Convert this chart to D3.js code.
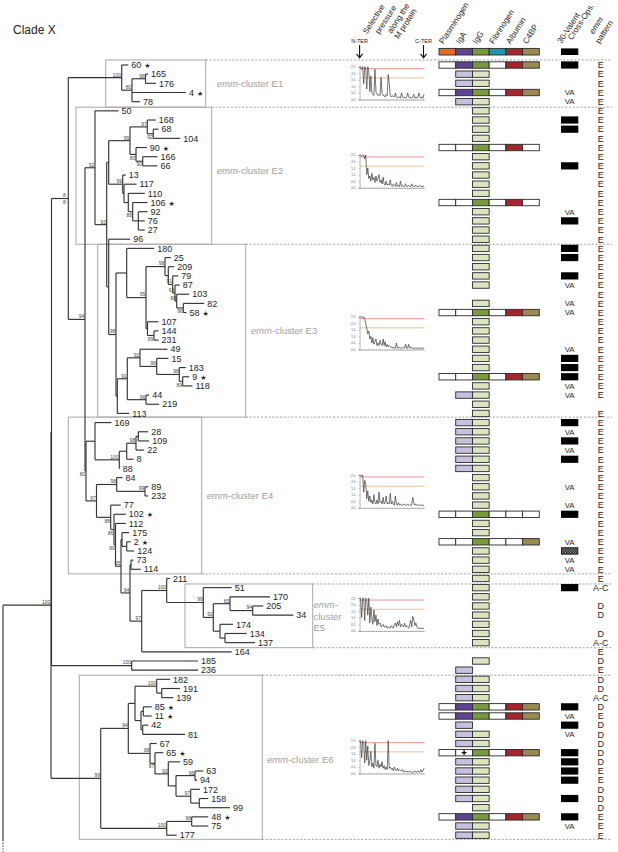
<!DOCTYPE html>
<html><head><meta charset="utf-8">
<script src="https://cdn.jsdelivr.net/npm/d3@7"></script>
<style>body{margin:0;background:#fff}svg{display:block}text{font-family:"Liberation Sans",Arial,sans-serif}</style>
</head><body>
<svg id="c" width="618" height="852"></svg>
<script>
// ---------------- DATA ----------------
// Phylogeny (Newick, branch lengths in arbitrary divergence units, internal labels = bootstrap; "_" = label drawn below branch)
const treeE1 = "(60:6.6,((165:2.5,176:10.5)98:13.5,4:54,78:8)80:10.3)100:53.4";
const treeE2 = "(((168:8.5,(68:5.2,104:26.9)92_:6)97:17.3,(90:10.8,(166:14.8,66:14.8)90_:6.7)80_:6)99:21.3,(13:3.1,(117:12.5,(110:16.5,(106:14.8,(92:9.2,76:6.5,27:6.5):5.6)88_:4.4):4.3):1.3)99:14):2";
const treeE3 = "((180:27.5,((25:5.8,(209:5.9,(79:5.5,(87:4.8,(103:12.5,(82:20.9,58:3.2)96_:6.6)88:1.7)63:2.3)91:4.4):3.3)98:19,(107:11,(144:4.5,231:4.5)89_:6.5):1.5)95:19.3):10.7,(((49:27.5,(15:11.8,(183:6.5,(9:6.5,118:9.8)89_:3.4)98:22.6)96:16.7)92:12.7,(44:3.2,219:13.2)96:18.7)91:10,113:11.9):1.3)98:7.3";
const treeE4a = "(169:16.5,((((28:9.9,109:10.9):2.3,22:8.2)98:9.3,8:6.8):7.4,88:0.5)100:24.3):9";
const treeE5 = "(51:28.4,((170:40,(205:10.6,34:40.6)94:22.7)83:16.7,(174:13,(134:21.7,137:30):5):6.7)92:10)99:36.6";
const treeE4b = "((84:5.8,(89:3.2,232:3.2)99:28.3)98:20.2,(77:10.1,(102:11.8,(112:10.3,((175:7.2,(2:4.1,124:7.5):4.7):1,((73:2.5,114:9.8):1,((211:3.3," + treeE5 + ")100:25,164:90)97:11.7)94:9)95:5.5)89_:1.5)86_:3.3)88_:14.2)97:10.5";
const treeE6 = "((((182:13.3,(191:18.3,139:11.6):5)100:21.7,((85:8.4,11:8.4):2.3,(42:5.6,81:42.3):1.7):6):6.7,(67:6.7,(65:8.3,(59:11.7,((63:8.3,94:2)96:19,(172:9.3,(158:9,99:30.7):8.6)97:14.7):7.7)93:13.3)87_:5)98:21.7)94:27.6,((48:16.6,75:16.6)98:25,177:10)100:66)99:49.7";
const treeUpper = "(" + treeE1 + ",((50:23.5,(" + treeE2 + ",(96:21.5," + treeE3 + "):2)93:11.7)92:10,(" + treeE4a + "," + treeE4b + ")80_:1)94:16.7)8|8:16.8";
const newick = "(((" + treeUpper + ",(185:66.3,236:66.3)100:80.2):0.5," + treeE6 + ")100:48);";

const starred = ["60","4","90","106","58","9","102","2","85","11","65","48"];

const proteins = ["Plasminogen","IgA","IgG","Fibrinogen","Albumin","C4BP"];
// per leaf row, one char per protein: . none, w tested/negative, P strong binding, p weak binding, x cross
const binding = [
"wPPwPP",".pp...",".pp...","wPPwPP",".pp...","..p...","..p...","..p...","..p...","wwPwPw",
"..p...","..p...","..p...","..p...","..p...","wwPwPw","..p...","..p...","..p...","..p...",
"..p...","..p...","..p...","..p...","..p...","......","..p...","wwPwPP","..p...","..p...",
"..p...","..p...","..p...","..p...","wwPwPP","..p...",".pp...","..p...","..p...",".pp...",
".pp...",".pp...",".pp...",".pp...",".pp...","..p...","..p...","..p...","..p...","wwPwww",
"..p...","..p...","wwPwwP","..p...","..p...","..p...","..p...","..p...","..p...","..p...",
"..p...","..p...","..p...","..p...","......","..p...",".p....",".pp...",".pp...",".pp...",
"wPPwPP","wPPwPP",".p....",".pp...",".pp...","wxPwPP",".pp...",".pp...",".pp...",".pp...",
".pp...","..p...","wPPwPP",".pp...",".pp..."];
// 30-valent cross-opsonization: B covered, V "VA", H hatched, . none
const opsonization = ("B..VV.BB.." + ".B....VB.." + "BB.BV.VV.." + ".VBBBVV..B" + "VBVB..V.VB" +
                      "..VHVV.B.." + ".........." + "BVBV.BBBB." + "B.BV.").split("");
// emm pattern: E, D, A (= A-C), . none
const emmPattern = ("EEEEEEEEEE" + "EEEEEEEEEE" + "EEEEEEEEEE" + "EEEEEEE.EE" + "EEEEEEEEEE" +
                    "EEEEEEEA.D" + "D.DAEDEDDA" + "DEDDDDDEED" + "DDEEE").split("");

// selective pressure along the M protein (N-ter -> C-ter), one series per emm-cluster
const pressureE1 = [2.5,2.5,2.3,2.5,1.2,2.5,2.4,0.8,2.5,2.2,0.6,1.8,0.5,0.4,0.3,2.3,0.6,0.4,0.3,0.4,0.3,1.7,0.5,0.3,0.3,0.2,0.4,0.3,1.9,1.2,0.3,0.2,0.3,0.2,0.2,0.5,0.2,0.1,0.2,0.2,0.1,0.5,0.2,0.1,0.2,0.1,0.2,0.5,0.2,0.1,0.2,0.1,0.2,0.4,0.1,0.2,0.1,0.2,0.5,0.2,0.1,0.2,0.1,0.4];
const pressureE2 = [2.5,2.5,2.4,2.5,2.5,2.2,2.5,1.0,1.5,0.7,0.9,0.5,1.1,0.6,0.8,0.4,0.9,0.5,0.7,1.0,0.4,0.6,0.3,0.8,0.3,0.2,0.5,0.2,0.3,0.2,0.6,0.2,0.1,0.3,0.2,0.1,0.4,0.1,0.2,0.1,0.5,0.1,0.2,0.1,0.1,0.3,0.1,0.1,0.2,0.1,0.1,0.3,0.1,0.1,0.1,0.2,0.1,0.1,0.1,0.2,0.1,0.1,0.1,0.1];
const pressureE3 = [2.5,2.5,2.5,2.4,2.5,2.3,2.0,1.6,1.2,1.4,0.8,1.0,0.5,0.9,0.4,0.6,0.8,0.3,0.5,0.3,0.7,0.4,0.3,0.8,0.3,0.6,0.2,0.4,0.2,0.3,0.2,0.2,0.1,0.2,0.1,0.1,0.5,0.1,0.1,0.2,0.1,0.1,0.1,0.2,0.1,0.4,0.1,0.1,0.4,0.1,0.2,0.1,0.1,0.1,0.1,0.1,0.1,0.1,0.1,0.1,0.1,0.1,0.1,0.1];
const pressureE4 = [2.5,2.5,2.4,2.5,1.2,2.1,1.8,0.7,1.3,0.5,0.9,0.4,0.6,0.3,1.0,0.4,0.3,0.6,0.3,1.2,0.4,0.5,0.3,0.8,0.3,0.4,0.9,0.3,0.4,0.3,1.1,0.3,0.5,0.3,0.2,0.9,0.3,0.2,0.4,0.2,0.3,0.2,0.2,0.3,0.2,0.2,0.2,0.3,0.2,0.2,0.2,0.2,0.8,0.4,0.2,0.3,0.2,0.2,0.2,0.2,0.2,0.2,0.2,0.2];
const pressureE5 = [2.5,2.5,1.0,2.5,2.5,0.8,2.5,2.4,1.2,2.5,0.6,1.8,1.0,0.5,1.6,0.7,1.2,0.4,0.9,0.5,0.6,0.3,0.4,0.5,0.3,0.3,0.4,0.2,0.3,0.3,0.2,0.4,0.3,0.2,0.5,0.6,0.3,0.7,0.4,0.8,0.3,0.5,0.4,0.3,0.6,0.3,0.4,0.3,0.2,0.5,0.8,0.3,1.1,0.9,0.4,0.6,0.3,0.2,0.2,0.2,0.2,0.2,0.2,0.2];
const pressureE6 = [2.5,2.5,1.2,2.5,2.3,0.8,2.5,1.0,2.1,0.6,1.0,1.7,0.5,0.8,0.4,2.3,0.6,0.5,1.0,0.4,0.7,0.5,0.9,0.4,0.6,0.3,0.5,0.3,2.5,0.4,0.5,0.3,0.4,0.2,0.5,0.3,0.2,0.4,0.2,0.3,0.2,0.2,0.3,0.1,0.2,0.1,0.2,0.1,0.1,0.2,0.1,0.1,0.1,0.1,0.2,0.1,0.1,0.2,0.1,0.1,0.3,0.1,0.2,0.4];
const pressureTicks = [0, 0.5, 1, 1.5, 2, 2.5];
const thresholds = [2.35, 1.65];

// ---------------- LAYOUT ----------------
const FONT = '"Liberation Sans", Arial, sans-serif';
const svg = d3.select("#c");
const rowY = d3.scaleLinear().domain([0, 84]).range([65, 835.2]);
const treeX = d3.scaleLinear().domain([0, 291]).range([3, 294]);
const colX = d3.scaleBand().domain(proteins).range([439, 539.3]);
const strong = {Plasminogen:"#e46c2a", IgA:"#5e4592", IgG:"#789a3e", Fibrinogen:"#1f97a8", Albumin:"#a3262c", C4BP:"#9a8a52"};
const weak = {IgA:"#c9bfdf", IgG:"#d9e5be"};

const clusterLayout = [
  {r:[-0.55,4.6], x:[105.7,205.7], lab:[[216.7,87,"E1"]]},
  {r:[4.6,19.55], x:[76,211.7], lab:[[216.7,174,"E2"]]},
  {r:[19.55,38.4], x:[97.7,245.7], lab:[[250.7,333.5,"E3"]]},
  {r:[38.4,55.5], x:[68.3,201.7], lab:[[206.7,498.5,"E4"]]},
  {r:[56.6,63.55], x:[185,312.7], lab:null},
  {r:[66.55,84.45], x:[79.3,262.3], lab:[[267,762.5,"E6"]]}
];
const separators = [[-0.55,205.7],[4.6,211.7],[19.55,245.7],[38.4,245.7],[55.5,201.7],[56.6,312.7],[63.55,312.7],[66.55,262.3],[84.45,262.3]];

// ---------------- NEWICK ----------------
function parseNewick(s){
  let i = 0;
  function node(){
    const n = {children:[]};
    if (s[i] === "("){
      i++; n.children.push(node());
      while (s[i] === ","){ i++; n.children.push(node()); }
      i++;
    }
    let name = "";
    while (i < s.length && !",():;".includes(s[i])) name += s[i++];
    n.name = name;
    n.length = 0;
    if (s[i] === ":"){ i++; let num = ""; while (i < s.length && !",();".includes(s[i])) num += s[i++]; n.length = +num; }
    return n;
  }
  return node();
}
const root = d3.hierarchy(parseNewick(newick), d => d.children.length ? d.children : null);
root.each(d => { d.dist = d.parent ? d.parent.dist + d.data.length : 0; d.px = treeX(d.dist); });
root.leaves().forEach((l, i) => { l.row = i; l.py = rowY(i); });
root.eachAfter(d => { if (d.children) d.py = (d.children[0].py + d.children[d.children.length-1].py) / 2; });

// ---------------- DRAW ----------------
svg.append("text").attr("x", 13).attr("y", 34).attr("font-size", 12).attr("fill", "#222").text("Clade X");

// cluster boxes
const gBox = svg.append("g");
clusterLayout.forEach(c => {
  const y0 = rowY(c.r[0]), y1 = rowY(c.r[1]);
  gBox.append("rect").attr("x", c.x[0]).attr("y", y0).attr("width", c.x[1]-c.x[0]).attr("height", y1-y0)
    .attr("fill", "none").attr("stroke", "#a8a8a8").attr("stroke-width", 1);
  if (c.lab) c.lab.forEach(l => {
    const t = gBox.append("text").attr("x", l[0]).attr("y", l[1]).attr("font-size", 9.5).attr("fill", "#a0a0a0");
    t.append("tspan").attr("font-style", "italic").text("emm");
    t.append("tspan").text("-cluster " + l[2]);
  });
});
// E5 stacked label
{
  const t1 = gBox.append("text").attr("x", 313.5).attr("y", 608).attr("font-size", 9.5).attr("fill", "#a0a0a0");
  t1.append("tspan").attr("font-style","italic").text("emm"); t1.append("tspan").text("-");
  gBox.append("text").attr("x", 313.5).attr("y", 619.5).attr("font-size", 9.5).attr("fill", "#a0a0a0").text("cluster");
  gBox.append("text").attr("x", 313.5).attr("y", 631).attr("font-size", 9.5).attr("fill", "#a0a0a0").text("E5");
}
// dashed separators
separators.forEach(s => {
  svg.append("line").attr("x1", s[1]).attr("x2", 612).attr("y1", rowY(s[0])).attr("y2", rowY(s[0]))
    .attr("stroke", "#9a9a9a").attr("stroke-width", 0.9).attr("stroke-dasharray", "2.2,1.6");
});

// tree
const gT = svg.append("g").attr("fill", "none").attr("stroke", "#353535").attr("stroke-width", 1.15);
root.descendants().forEach(d => {
  if (d.parent) gT.append("path").attr("d", `M${d.parent.px},${d.py}H${d.px}`);
  if (d.children && d.children.length > 1) gT.append("path").attr("d", `M${d.px},${d.children[0].py}V${d.children[d.children.length-1].py}`);
});
// root stem continuing below (to the rest of the tree)
const R = root.children[0];
gT.append("path").attr("d", `M${root.px},${R.py}V840`);
gT.append("path").attr("d", `M${root.px},840V852`).attr("stroke-dasharray", "1.2,1.6");

// bootstrap labels
const gB = svg.append("g").attr("font-size", 5).attr("fill", "#444").attr("text-anchor", "end");
root.descendants().forEach(d => {
  if (!d.children || !d.data.name) return;
  let nm = d.data.name;
  if (nm.includes("|")) {
    const [a, b] = nm.split("|");
    gB.append("text").attr("x", d.px - 2.5).attr("y", d.py - 1.2).text(a);
    gB.append("text").attr("x", d.px - 2.5).attr("y", d.py + 5.2).text(b);
    return;
  }
  const below = nm.endsWith("_");
  nm = nm.replace("_", "");
  gB.append("text").attr("x", d.px - 0.6).attr("y", below ? d.py + 5.2 : d.py - 1.1).text(nm);
});

// leaf labels
const gL = svg.append("g").attr("font-size", 9).attr("fill", "#1e1e1e");
root.leaves().forEach(l => {
  const t = gL.append("text").attr("x", l.px + 3).attr("y", l.py + 3.2).text(l.data.name);
  if (starred.includes(l.data.name)) t.append("tspan").attr("dx", 3).attr("font-size", 7).attr("font-family", "DejaVu Sans").text("★");
});

// ---------------- HEADER ----------------
const gH = svg.append("g").attr("font-size", 8.2).attr("fill", "#1e1e1e");
function rot(x, y, txt, italic){
  const t = gH.append("text").attr("transform", `translate(${x},${y}) rotate(-57)`).text(txt);
  if (italic) t.attr("font-style", "italic");
}
[["Selective",367,34.5],["pressure",379.3,34.5],["along the",391.5,34],["M protein",398.5,39.5]].forEach(a => rot(a[1], a[2], a[0]));
proteins.forEach(p => rot(colX(p) + 4.3, 44.5, p));
rot(561.5, 44, "30-Valent"); rot(572, 40.5, "Cross-Ops.");
rot(593.5, 34.5, "emm", true); rot(599.5, 44, "pattern");
// N-ter / C-ter arrows
[["N-TER",359.6],["C-TER",423.5]].forEach(a => {
  svg.append("text").attr("x", a[1]).attr("y", 42.5).attr("font-size", 5.5).attr("text-anchor", "middle").attr("fill", "#222").text(a[0]);
  svg.append("path").attr("d", `M${a[1]},45V57.5M${a[1]-3},53.8L${a[1]},57.8L${a[1]+3},53.8`).attr("fill", "none").attr("stroke", "#111").attr("stroke-width", 1.1);
});
// header colour key
proteins.forEach(p => {
  svg.append("rect").attr("x", colX(p)).attr("y", 48.4).attr("width", colX.bandwidth()).attr("height", 6.6)
    .attr("fill", strong[p]).attr("stroke", "#2a2a2a").attr("stroke-width", 0.9);
});
svg.append("rect").attr("x", 561).attr("y", 48.4).attr("width", 17.3).attr("height", 6.6).attr("fill", "#000");

// hatched pattern
const defs = svg.append("defs");
const pat = defs.append("pattern").attr("id", "hatch").attr("width", 2.6).attr("height", 2.6).attr("patternUnits", "userSpaceOnUse");
pat.append("rect").attr("width", 2.6).attr("height", 2.6).attr("fill", "#111");
pat.append("path").attr("d", "M0.3,0.3L2.3,2.3M2.3,0.3L0.3,2.3").attr("stroke", "#fff").attr("stroke-width", 0.55);

// ---------------- BINDING PANEL ----------------
const gP = svg.append("g");
const bh = 6.4;
binding.forEach((row, i) => {
  const y = rowY(i);
  row.split("").forEach((c, j) => {
    if (c === ".") return;
    const p = proteins[j];
    const fill = c === "P" ? strong[p] : c === "p" ? weak[p] : "#fff";
    gP.append("rect").attr("x", colX(p)).attr("y", y - bh/2).attr("width", colX.bandwidth()).attr("height", bh)
      .attr("fill", fill).attr("stroke", "#2a2a2a").attr("stroke-width", 0.9);
    if (c === "x") {
      const cx = colX(p) + colX.bandwidth()/2;
      gP.append("path").attr("d", `M${cx-2.4},${y}H${cx+2.4}M${cx},${y-2.4}V${y+2.4}`).attr("stroke", "#000").attr("stroke-width", 1.3);
    }
  });
});

// opsonization column
opsonization.forEach((c, i) => {
  const y = rowY(i);
  if (c === "B") svg.append("rect").attr("x", 561).attr("y", y - 3.6).attr("width", 17.3).attr("height", 7.2).attr("fill", "#000");
  if (c === "H") svg.append("rect").attr("x", 561.4).attr("y", y - 3.2).attr("width", 16.5).attr("height", 6.4).attr("fill", "url(#hatch)").attr("stroke", "#000").attr("stroke-width", 0.8);
  if (c === "V") svg.append("text").attr("x", 569.6).attr("y", y + 2.8).attr("font-size", 7.8).attr("text-anchor", "middle").attr("fill", "#2a2a2a").text("VA");
});
// emm pattern column
emmPattern.forEach((c, i) => {
  if (c === ".") return;
  svg.append("text").attr("x", 600.7).attr("y", rowY(i) + 3.3).attr("font-size", 9).attr("text-anchor", "middle").attr("fill", "#1e1e1e")
    .text(c === "A" ? "A-C" : c);
});

// ---------------- SELECTIVE PRESSURE MINI CHARTS ----------------
const charts = [
  {data: pressureE1, top: 0.185}, {data: pressureE2, top: 9.815}, {data: pressureE3, top: 27.45},
  {data: pressureE4, top: 44.72}, {data: pressureE5, top: 58.14}, {data: pressureE6, top: 73.69}
];
charts.forEach(ch => {
  const top = rowY(ch.top), bottom = top + 32.8;
  const x = d3.scaleLinear().domain([0, ch.data.length - 1]).range([359.6, 424]);
  const y = d3.scaleLinear().domain([0, 2.5]).range([bottom, top]);
  const g = svg.append("g");
  thresholds.forEach((t, k) => g.append("line").attr("x1", 359.6).attr("x2", 424.5).attr("y1", y(t)).attr("y2", y(t))
      .attr("stroke", k === 0 ? "#e57a7a" : "#eeae78").attr("stroke-width", 0.8));
  const ay = g.append("g").attr("transform", `translate(359.6,0)`).call(d3.axisLeft(y).tickValues(pressureTicks).tickSize(1.2).tickFormat(d3.format(".1f")));
  ay.selectAll("text").attr("font-size", 3).attr("fill", "#555").attr("font-family", FONT);
  ay.selectAll("path,line").attr("stroke", "#777").attr("stroke-width", 0.5);
  const ax = g.append("g").attr("transform", `translate(0,${bottom})`).call(d3.axisBottom(x).ticks(30).tickSize(1).tickFormat(""));
  ax.selectAll("path,line").attr("stroke", "#777").attr("stroke-width", 0.5);
  g.append("path").datum(ch.data).attr("d", d3.line().x((d, i) => x(i)).y(d => y(d)))
    .attr("fill", "none").attr("stroke", "#3a3a3a").attr("stroke-width", 0.7);
});
</script>
</body></html>
